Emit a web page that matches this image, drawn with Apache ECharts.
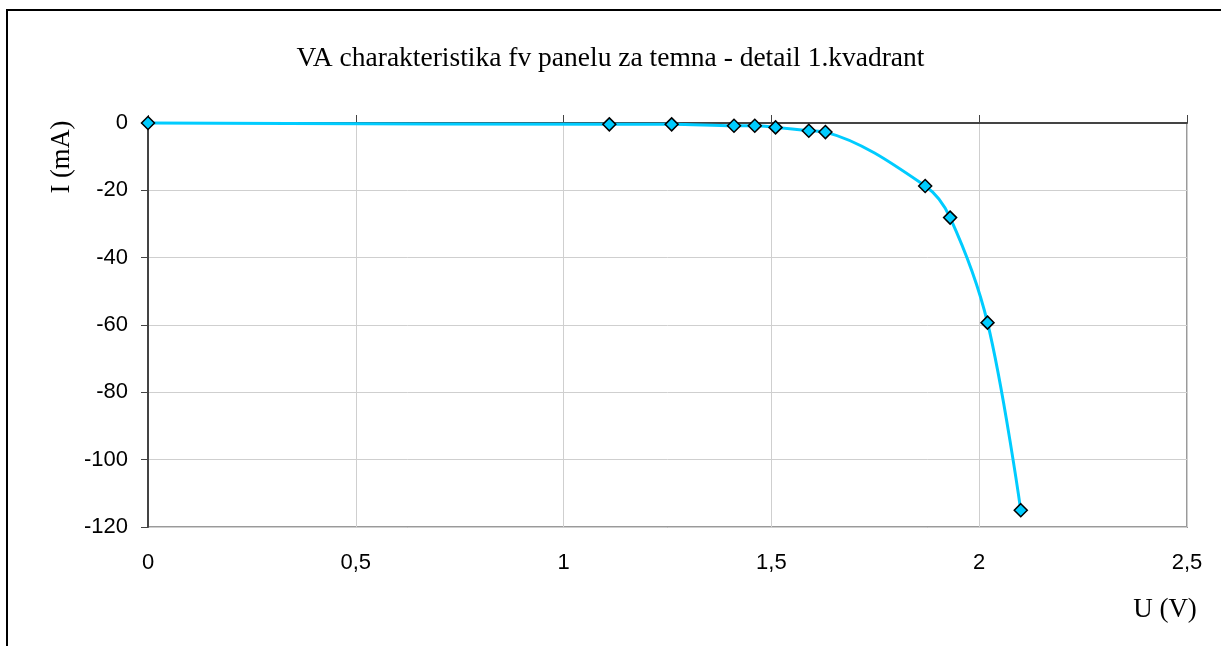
<!DOCTYPE html>
<html>
<head>
<meta charset="utf-8">
<script src="https://cdn.jsdelivr.net/npm/echarts@6/dist/echarts.min.js"></script>
<style>
  html, body { margin: 0; padding: 0; background: #fff; }
  #chart { width: 1221px; height: 646px; }
</style>
</head>
<body>
<div id="chart"></div>
<script>
// VA charakteristika - měřené body (U ve V, I v mA)
const uVals = [0, 1.11, 1.26, 1.41, 1.46, 1.51, 1.59, 1.63, 1.87, 1.93, 2.02, 2.10];
const iVals = [0, -0.4, -0.4, -0.8, -0.8, -1.3, -2.3, -2.7, -18.7, -28.1, -59.3, -115];

const titleText = 'VA charakteristika fv panelu za temna - detail 1.kvadrant';
const xName = 'U (V)';
const yName = 'I (mA)';

const serif = '"Liberation Serif", "Times New Roman", serif';
const sans = '"Liberation Sans", Arial, sans-serif';

const chart = echarts.init(document.getElementById('chart'));
const fmtComma = v => String(v).replace('.', ',');

chart.setOption({
  animation: false,
  grid: {
    left: 148, right: 34, top: 123, bottom: 119,
    show: true, borderColor: '#9a9a9a', borderWidth: 2
  },
  title: {
    text: titleText,
    left: 'center', top: 40,
    textStyle: { fontFamily: serif, fontSize: 27.5, fontWeight: 'normal', color: '#000' }
  },
  graphic: [
    {
      type: 'rect', silent: true, z: -1,
      shape: { x: 7, y: 10, width: 1400, height: 800 },
      style: { fill: 'none', stroke: '#000', lineWidth: 2 }
    },
    {
      type: 'text', x: 62, y: 157, rotation: Math.PI / 2,
      style: {
        text: yName, font: '26.5px ' + serif, fill: '#000',
        align: 'center', verticalAlign: 'middle'
      }
    },
    {
      type: 'text', x: 1165, y: 610,
      style: {
        text: xName, font: '27px ' + serif, fill: '#000',
        align: 'center', verticalAlign: 'middle'
      }
    }
  ],
  xAxis: [
    {
      type: 'value', min: 0, max: 2.5, interval: 0.5, position: 'bottom',
      axisLine: { show: false },
      axisTick: { show: false },
      axisLabel: {
        margin: 25, fontFamily: sans, fontSize: 22, color: '#000',
        formatter: fmtComma
      },
      splitLine: { show: true, lineStyle: { color: '#cfcfcf', width: 1 } }
    },
    {
      // osa na nule (horni okraj)
      type: 'value', min: 0, max: 2.5, interval: 0.5, position: 'top',
      axisLine: { show: true, lineStyle: { color: '#444', width: 2 } },
      axisTick: { show: true, length: 8, lineStyle: { color: '#444', width: 1 } },
      axisLabel: { show: false },
      splitLine: { show: false }
    }
  ],
  yAxis: {
    type: 'value', min: -120, max: 0, interval: 20,
    axisLine: { show: true, lineStyle: { color: '#444', width: 2 } },
    axisTick: { show: true, length: 7, lineStyle: { color: '#444', width: 1 } },
    axisLabel: { margin: 20, fontFamily: sans, fontSize: 22, color: '#000' },
    splitLine: { show: true, lineStyle: { color: '#cfcfcf', width: 1 } }
  },
  series: [{
    type: 'line',
    data: uVals.map((u, i) => [u, iVals[i]]),
    smooth: 0.35,
    clip: false,
    symbol: 'diamond',
    symbolSize: 13,
    lineStyle: { color: '#00ccff', width: 3 },
    itemStyle: { color: '#00ccff', borderColor: '#000', borderWidth: 1.5 },
    z: 5
  }]
});
</script>
</body>
</html>
